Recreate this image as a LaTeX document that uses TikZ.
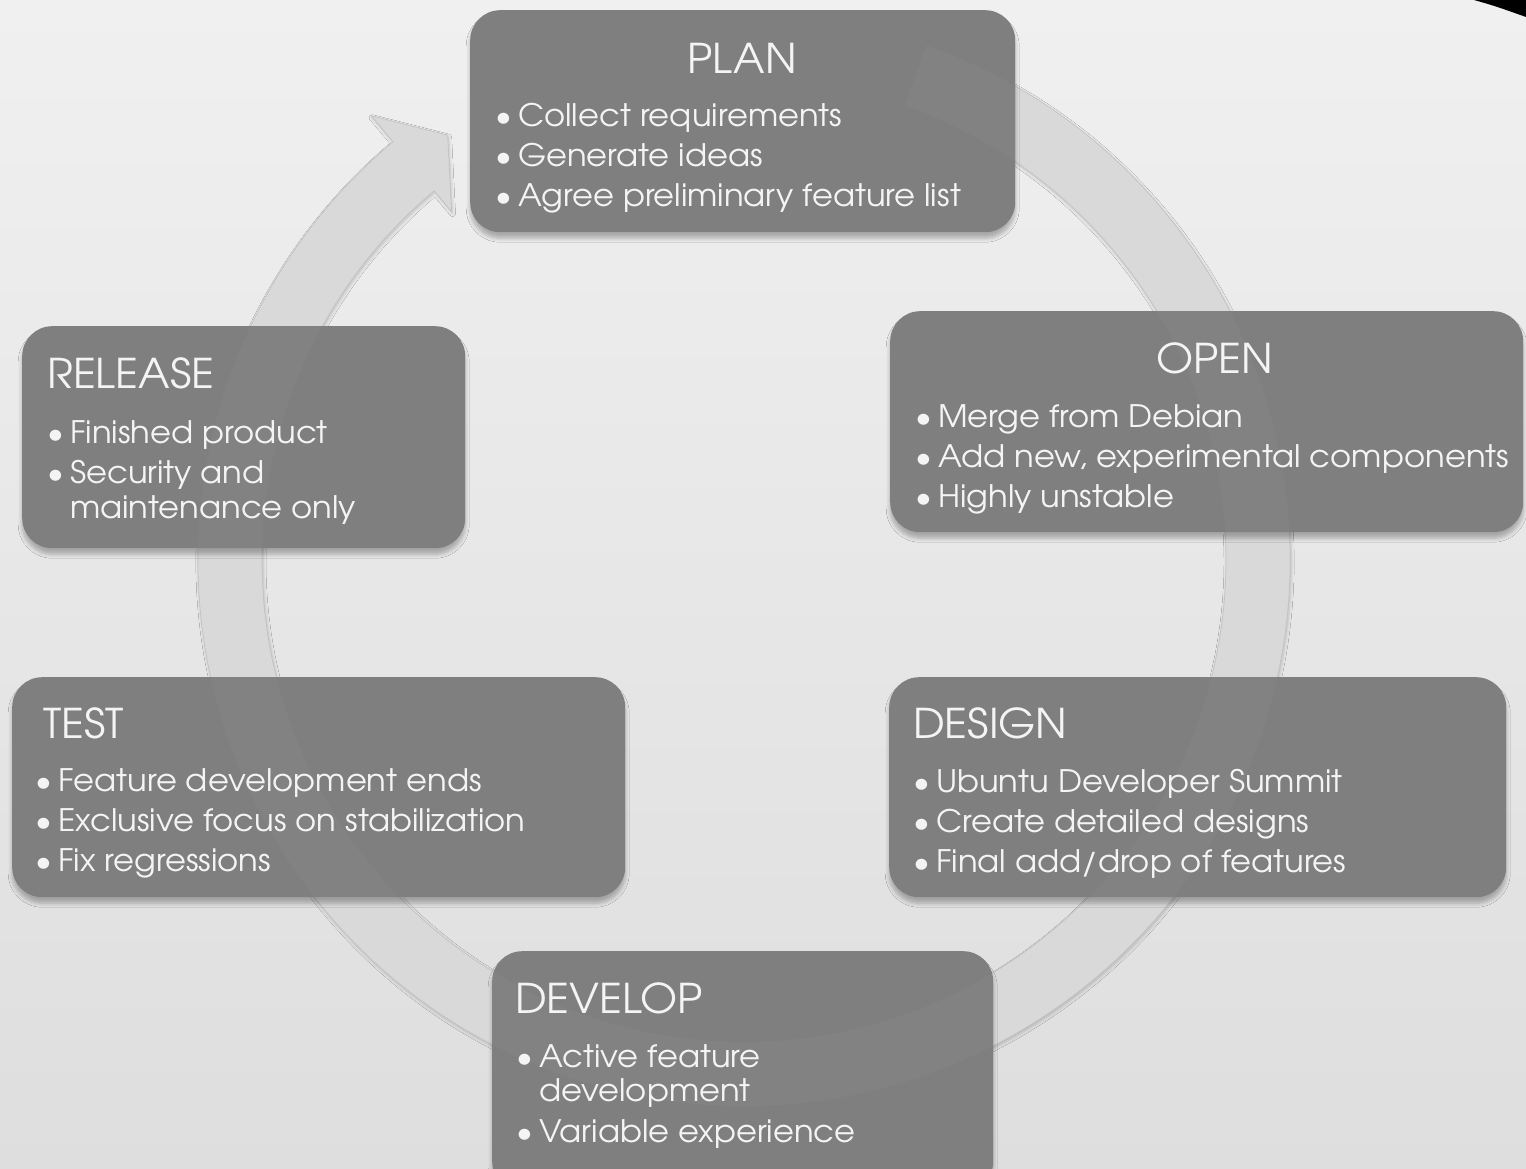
\documentclass[tikz,border=0pt]{standalone}
\usepackage{fontspec}
\setmainfont{texgyreadventor-regular.otf}[FakeStretch=1.04]
\usetikzlibrary{shadows.blur}
\definecolor{boxgray}{HTML}{7F7F7F}
\definecolor{ringgray}{HTML}{D9D9D9}
\definecolor{ringedge}{HTML}{C4C4C4}
\definecolor{txt}{HTML}{F4F4F4}
\definecolor{bgtop}{HTML}{F0F0F0}
\definecolor{bgbot}{HTML}{DEDEDE}
\begin{document}
\begin{tikzpicture}[x=1pt,y=-1pt,
  box/.style={fill=boxgray, rounded corners=30pt, anchor=north west, inner sep=0pt,
    blur shadow={shadow xshift=0pt, shadow yshift=-6pt, shadow blur radius=4pt, shadow opacity=28, shadow blur steps=6}},
  ttl/.style={text=txt, font=\fontsize{41}{41}\selectfont, inner sep=0pt},
  itm/.style={text=txt, font=\fontsize{31}{31}\selectfont, inner sep=0pt, anchor=base west},
  ringpath/.style={line width=0.8pt}
]
\useasboundingbox (0,0) rectangle (1526,1169);
\clip (0,0) rectangle (1526,1169);
\shade[top color=bgtop, bottom color=bgbot] (0,0) rectangle (1526,1169);
\fill[black] (1474,0) .. controls (1495,6) .. (1526,17) -- (1526,0) -- cycle;

% circular arrow
\begin{scope}[shift={(744,560)}]
\path[fill=ringgray, draw=ringedge, ringpath,
  blur shadow={shadow xshift=1pt, shadow yshift=-2pt, shadow blur radius=3pt, shadow opacity=20}]
  (-70.5:546) arc[start angle=-70.5, end angle=230, radius=546]
  -- (230:580) -- (235.1:518) -- (230:455) -- (230:482)
  arc[start angle=230, end angle=-70.5, radius=482] -- cycle;
\end{scope}

% boxes
\node[box, minimum width=545pt, minimum height=222pt] (plan) at (470,10) {};
\node[box, minimum width=633pt, minimum height=221pt] (open) at (890,311) {};
\node[box, minimum width=443pt, minimum height=222pt] (release) at (22,326) {};
\node[box, minimum width=613pt, minimum height=220pt] (test) at (12,677) {};
\node[box, minimum width=617pt, minimum height=220pt] (design) at (889,677) {};
\node[box, minimum width=501pt, minimum height=240pt] (develop) at (492,951) {};

% faint ring seen through the boxes
\begin{scope}[shift={(744,560)}]
\path[fill=white, fill opacity=0.025]
  (-70.5:546) arc[start angle=-70.5, end angle=230, radius=546]
  -- (230:580) -- (235.1:518) -- (230:455) -- (230:482)
  arc[start angle=230, end angle=-70.5, radius=482] -- cycle;
\end{scope}

% PLAN
\node[ttl, anchor=base] (planT) at (742,74) {PLAN};
\node[itm] (plan1) at (518,127) {\llap{•\hspace{6pt}}Collect requirements};
\node[itm] (plan2) at (518,167) {\llap{•\hspace{6pt}}Generate ideas};
\node[itm] (plan3) at (518,207) {\llap{•\hspace{6pt}}Agree preliminary feature list};
% OPEN
\node[ttl, anchor=base] (openT) at (1215,373) {OPEN};
\node[itm] (open1) at (938,427) {\llap{•\hspace{6pt}}Merge from Debian};
\node[itm] (open2) at (938,467) {\llap{•\hspace{6pt}}Add new, experimental components};
\node[itm] (open3) at (938,507) {\llap{•\hspace{6pt}}Highly unstable};
% RELEASE
\node[ttl, anchor=base west] (releaseT) at (47,388) {RELEASE};
\node[itm] (release1) at (70,443) {\llap{•\hspace{6pt}}Finished product};
\node[itm] (release2) at (70,483) {\llap{•\hspace{6pt}}Security and};
\node[itm] (release3) at (70,518) {maintenance only};
% TEST
\node[ttl, anchor=base west] (testT) at (43,738) {TEST};
\node[itm] (test1) at (58,791) {\llap{•\hspace{6pt}}Feature development ends};
\node[itm] (test2) at (58,831) {\llap{•\hspace{6pt}}Exclusive focus on stabilization};
\node[itm] (test3) at (58,871) {\llap{•\hspace{6pt}}Fix regressions};
% DESIGN
\node[ttl, anchor=base west] (designT) at (913,738) {DESIGN};
\node[itm] (design1) at (936,792) {\llap{•\hspace{6pt}}Ubuntu Developer Summit};
\node[itm] (design2) at (936,832) {\llap{•\hspace{6pt}}Create detailed designs};
\node[itm] (design3) at (936,872) {\llap{•\hspace{6pt}}Final add/drop of features};
% DEVELOP
\node[ttl, anchor=base west] (developT) at (515,1013) {DEVELOP};
\node[itm] (develop1) at (539,1067) {\llap{•\hspace{6pt}}Active feature};
\node[itm] (develop2) at (539,1101) {development};
\node[itm] (develop3) at (539,1142) {\llap{•\hspace{6pt}}Variable experience};
\end{tikzpicture}
\end{document}
